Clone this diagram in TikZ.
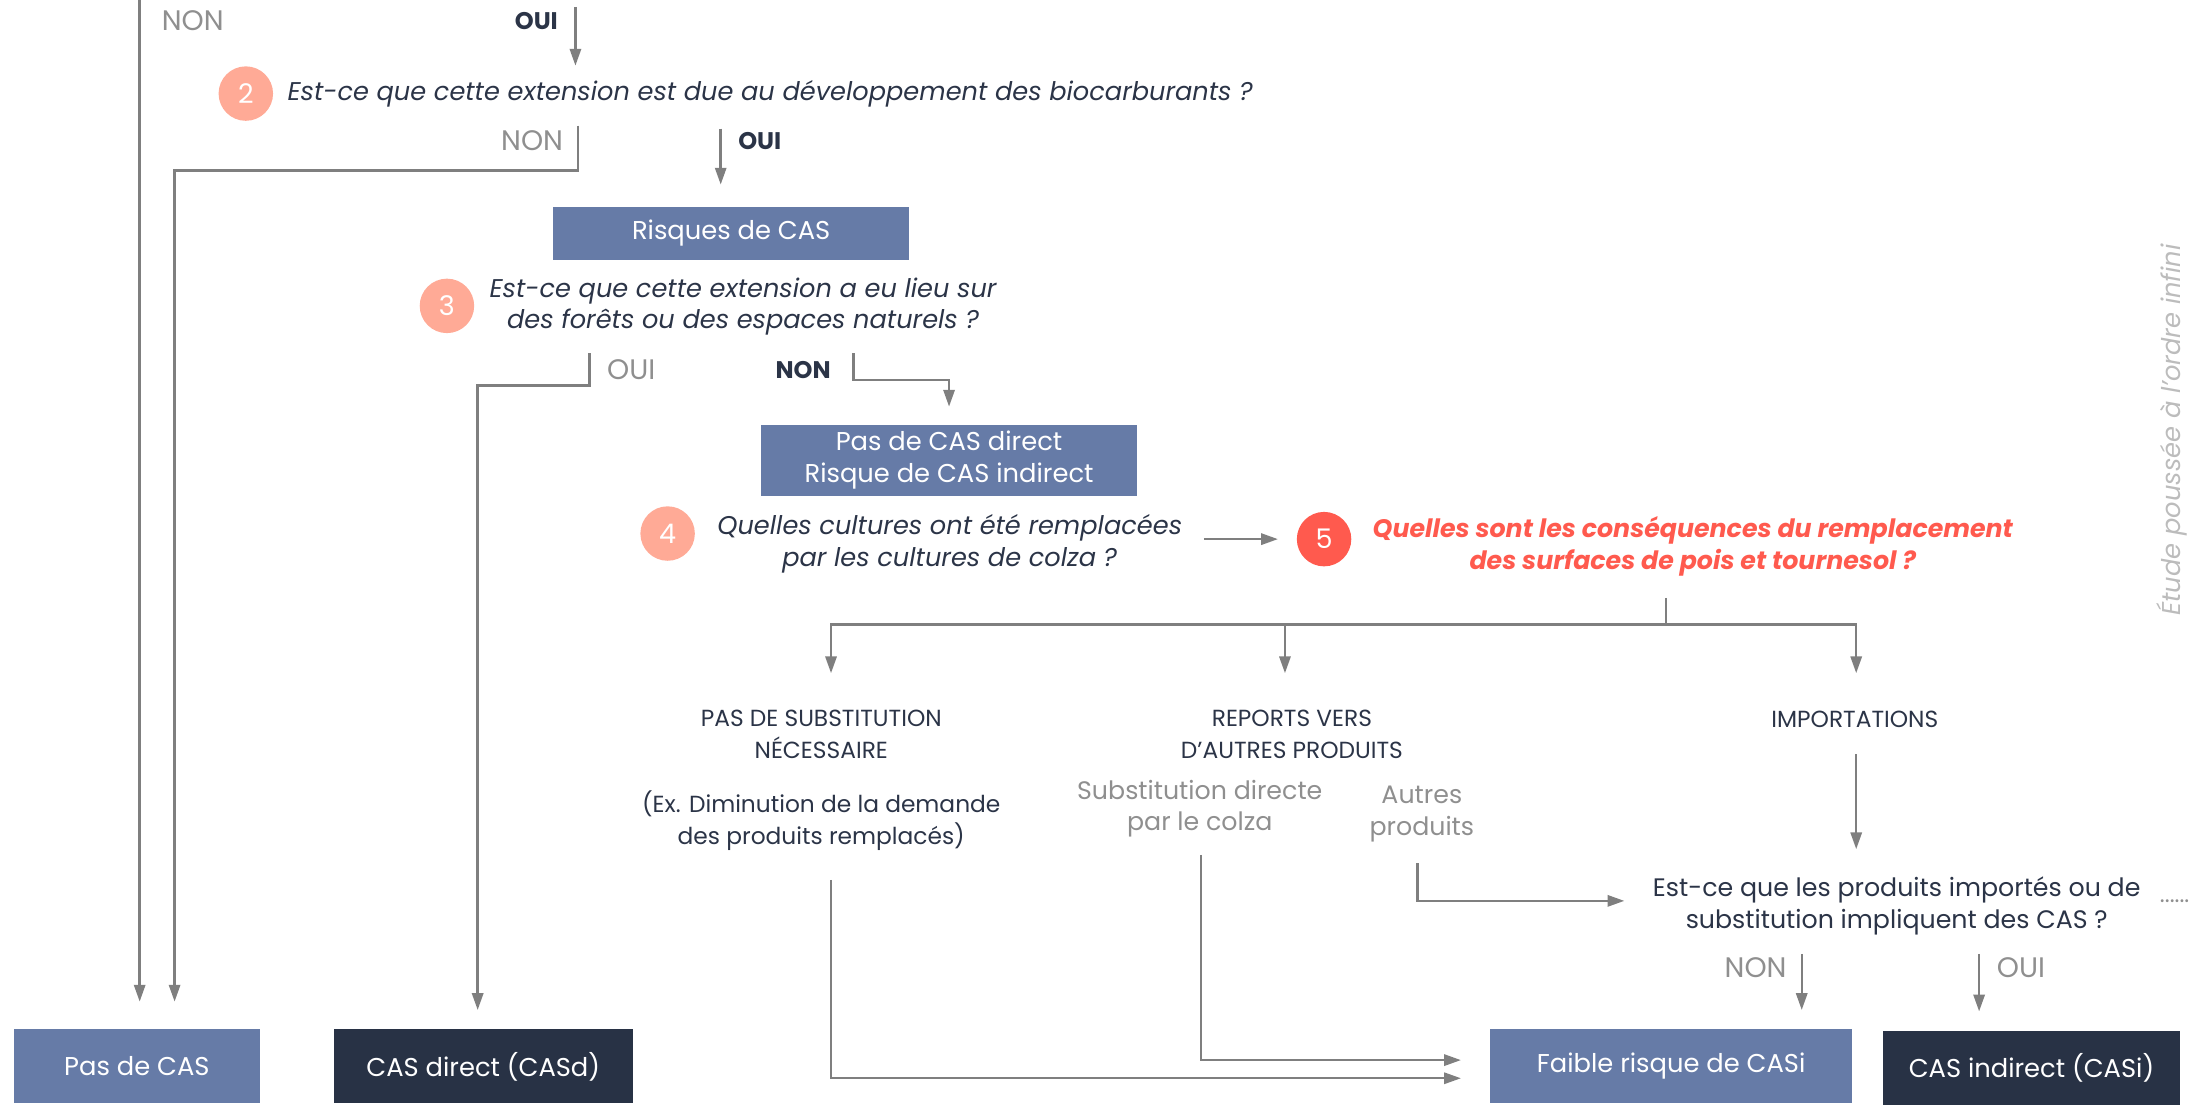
\documentclass[tikz,border=0pt]{standalone}
\usepackage{fontspec}
\setmainfont{Poppins}
\usetikzlibrary{arrows.meta,positioning}
\definecolor{slate}{HTML}{667BA7}
\definecolor{navy}{HTML}{283245}
\definecolor{salmon}{HTML}{FFAA96}
\definecolor{redq}{HTML}{FF5A4E}
\definecolor{ink}{HTML}{2B3447}
\definecolor{lgray}{HTML}{8F8F8F}
\definecolor{wire}{HTML}{7F7F7F}
\begin{document}
\begin{tikzpicture}[x=0.02cm,y=-0.02cm,->,>={Triangle[length=2.4mm,width=1.6mm]},color=wire,
    every path/.style={line width=1pt},
    every node/.style={font=\fontsize{9.5}{13}\selectfont,align=center,inner sep=0pt},
    box/.style={rectangle,fill=slate,text=white,minimum height=1.06cm,font=\fontsize{10.5}{13}\selectfont},
    dbox/.style={box,fill=navy},
    num/.style={circle,fill=salmon,text=white,minimum size=0.78cm,font=\fontsize{11}{13}\selectfont},
    question/.style={text=ink,font=\fontsize{10.45}{13}\selectfont\itshape},
    label/.style={text=lgray,font=\fontsize{10.3}{13}\selectfont},
    bold label/.style={text=ink,font=\fontsize{9.8}{13}\selectfont\bfseries},
    item/.style={text=ink}]
  \useasboundingbox (0,0) rectangle (1568,795);

  % questions
  \node[num] (c2) at (176,67) {2};
  \node[question,anchor=west] (q2) at (205,67) {Est-ce que cette extension est due au développement des biocarburants ?};
  \node[box,minimum width=5.1cm,minimum height=0.76cm] (risques) at (523.5,167) {Risques de CAS};
  \node[num] (c3) at (320,219) {3};
  \node[question] (q3) at (532,219.5) {Est-ce que cette extension a eu lieu sur\\des forêts ou des espaces naturels ?};
  \node[box,minimum width=5.38cm,minimum height=1.02cm] (direct) at (679.5,329.5) {Pas de CAS direct\\Risque de CAS indirect};
  \node[num] (c4) at (478,382) {4};
  \node[question] (q4) at (680,389.5) {Quelles cultures ont été remplacées\\par les cultures de colza ?};
  \node[num,fill=redq] (c5) at (948,386) {5};
  \node[question,text=redq,font=\fontsize{10.3}{13}\selectfont\bfseries\itshape] (q5) at (1212,391.5) {Quelles sont les conséquences du remplacement\\des surfaces de pois et tournesol ?};

  % consequences
  \node[item] (pasub) at (588,525.5) {PAS DE SUBSTITUTION\\NÉCESSAIRE};
  \node[item] (ex) at (588,587.5) {(Ex. Diminution de la demande\\des produits remplacés)};
  \node[item] (reports) at (925,525.5) {REPORTS VERS\\D'AUTRES PRODUITS};
  \node[label] (subdir) at (859,579) {Substitution directe\\par le colza};
  \node[label] (autres) at (1018,582.5) {Autres\\produits};
  \node[item] (import) at (1328,515) {IMPORTATIONS};
  \node[item,font=\fontsize{10.3}{13}\selectfont] (q6) at (1358,648.5) {Est-ce que les produits importés ou de\\substitution impliquent des CAS ?};
  \node[label,font=\fontsize{9.5}{13}\selectfont] (dots) at (1557,645) {......};

  % results
  \node[box,minimum width=3.52cm] (pascas) at (98,763.5) {Pas de CAS};
  \node[dbox,minimum width=4.28cm] (casd) at (346,763.5) {CAS direct (CASd)};
  \node[box,minimum width=5.18cm] (faible) at (1196.5,763.5) {Faible risque de CASi};
  \node[dbox,minimum width=4.26cm] (casi) at (1454.5,764.5) {CAS indirect (CASi)};

  % answers
  \node[label,font=\fontsize{11.5}{13}\selectfont] (non1) at (138,15) {NON};
  \node[bold label] (oui1) at (384,15) {OUI};
  \node[label,font=\fontsize{11.5}{13}\selectfont] (non2) at (381,101) {NON};
  \node[bold label] (oui2) at (544,101) {OUI};
  \node[label,font=\fontsize{11.5}{13}\selectfont] (oui3) at (452,265) {OUI};
  \node[bold label] (non3) at (575,265) {NON};
  \node[label,font=\fontsize{11.5}{13}\selectfont] (non4) at (1257,693) {NON};
  \node[label,font=\fontsize{11.5}{13}\selectfont] (oui4) at (1447,693) {OUI};
  \node[label,text=lgray!60,rotate=90,font=\fontsize{10.5}{13}\selectfont\itshape] (etude) at (1555,308) {Étude poussée à l'ordre infini};

  % connectors
  \coordinate (t1) at (100,0);
  \coordinate (t2) at (412,5);
  \coordinate (s2) at (414,90);
  \coordinate (s2o) at (516,92);
  \coordinate (s3) at (422,253);
  \coordinate (s3n) at (611,253);
  \coordinate (s5) at (1193,428);
  \coordinate (fork) at (1193,447);
  \draw[shorten >=3.8mm] (t1) -- (t1 |- pascas.north);
  \draw (t2) -- ++(0,42);
  \draw[shorten >=3.8mm] (s2) -- ++(0,32) -| (pascas.north -| 125,0);
  \draw[shorten >=3mm] (s2o) -- (s2o |- risques.north);
  \draw[shorten >=2.6mm] (s3) -- ++(0,23) -| (casd.north -| 342,0);
  \draw[shorten >=2.4mm] (s3n) -- ++(0,19) -| (direct.north);
  \draw (862,386) -- (c5.west -| 915,0);
  \draw[-] (s5) -- (fork);
  \draw (fork) -| (595,482);
  \draw (fork) -| (920,482);
  \draw (fork) -| (1329,482);
  \draw (1329,540) -- (1329,608);
  \draw (1015,618) -- (1015,645) -- (1163,645);
  \draw (860,612) -- (860,759) -- (1046,759);
  \draw (595,630) -- (595,772) -- (1046,772);
  \draw[shorten >=2.6mm] (1290,683) -- (faible.north -| 1290,0);
  \draw[shorten >=2.6mm] (1417,683) -- (casi.north -| 1417,0);
\end{tikzpicture}
\end{document}
